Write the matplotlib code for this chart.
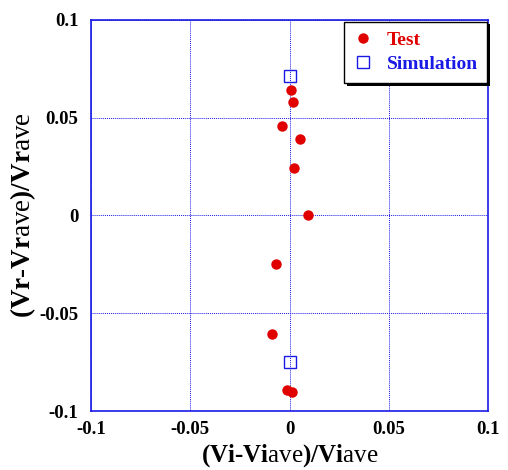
import matplotlib
matplotlib.use("Agg")
import matplotlib.pyplot as plt

# Test data (red dots)
test_x = [0.0008, 0.0018, -0.0038, 0.0051, 0.0024, 0.0092, -0.0066, -0.0088, -0.0011, 0.0013]
test_y = [0.0642, 0.0580, 0.0458, 0.0393, 0.0243, 0.0000, -0.0247, -0.0608, -0.0894, -0.0901]

# Simulation data (blue open squares)
sim_x = [0.0000, 0.0000]
sim_y = [0.0714, -0.0751]

ticks = [-0.1, -0.05, 0, 0.05, 0.1]
tick_labels = ["-0.1", "-0.05", "0", "0.05", "0.1"]

plt.rcParams["font.family"] = ["Liberation Serif", "DejaVu Serif"]
plt.rcParams["mathtext.fontset"] = "custom"
plt.rcParams["mathtext.rm"] = "Liberation Serif"

blue = "#1a1ae6"
red = "#e00000"

fig = plt.figure(figsize=(5.08, 4.70), dpi=100)
ax = fig.add_axes([0.179, 0.1255, 0.782, 0.832])

ax.plot(test_x, test_y, "o", color=red, markersize=7.5, markeredgewidth=0,
        label="Test", zorder=3)
ax.plot(sim_x, sim_y, "s", markerfacecolor="none", markeredgecolor=blue,
        markersize=8, markeredgewidth=1.0, label="Simulation", zorder=3)

ax.set_xlim(-0.1, 0.1)
ax.set_ylim(-0.1, 0.1)
ax.set_xticks(ticks)
ax.set_yticks(ticks)
ax.set_xticklabels(tick_labels, fontweight="bold", fontsize=13.5)
ax.set_yticklabels(tick_labels, fontweight="bold", fontsize=13.5)
ax.tick_params(axis="x", length=0, pad=7)
ax.tick_params(axis="y", length=0, pad=9)
ax.grid(True, color=blue, linestyle=(0, (1, 1)), linewidth=0.7)

for s in ax.spines.values():
    s.set_color(blue)
    s.set_linewidth(1.2)

ax.set_xlabel(r"(Vi-Vi$\mathrm{ave}$)/Vi$\mathrm{ave}$", fontsize=18, fontweight="bold", labelpad=3)
ax.set_ylabel(r"(Vr-Vr$\mathrm{ave}$)/Vr$\mathrm{ave}$", fontsize=19.5, fontweight="bold", labelpad=1)

leg = ax.legend(loc="upper right", bbox_to_anchor=(0.998, 0.996), borderaxespad=0,
                frameon=True, fancybox=False,
                shadow={"facecolor": "black", "alpha": 1, "edgecolor": "none"},
                prop={"weight": "bold", "size": 14}, handletextpad=0.7,
                borderpad=0.5, labelspacing=0.35, handlelength=1.0)
leg.get_frame().set_edgecolor("black")
leg.get_frame().set_linewidth(1.0)
leg.get_texts()[0].set_color(red)
leg.get_texts()[1].set_color(blue)

fig.savefig("out.png", dpi=100)
